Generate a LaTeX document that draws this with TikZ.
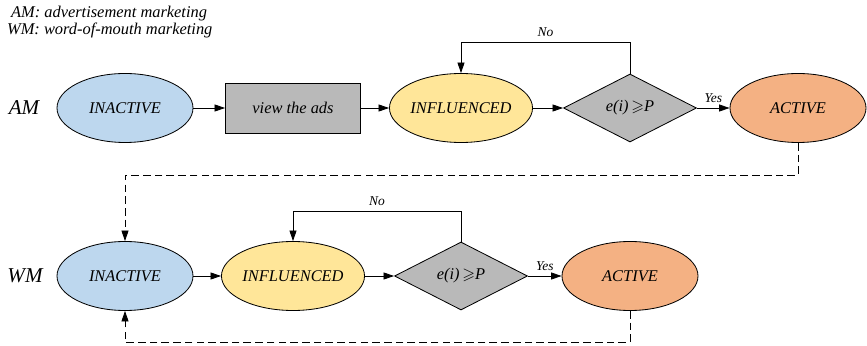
\documentclass[tikz,border=0pt]{standalone}
\usepackage{amssymb}
\usepackage{fontspec}
\setmainfont{Liberation Serif}
\usetikzlibrary{shapes.geometric,arrows.meta}

\definecolor{inactblue}{RGB}{189,215,238}
\definecolor{inflyellow}{RGB}{255,230,153}
\definecolor{actorange}{RGB}{244,177,131}
\definecolor{boxgray}{RGB}{185,185,185}

\tikzset{
  nodetext/.style={font=\rmfamily\fontsize{14}{16}\selectfont\itshape},
  state/.style={ellipse, draw, line width=0.7pt, minimum width=4.08cm, minimum height=2.07cm, inner sep=0pt, nodetext},
  inactive/.style={state, fill=inactblue},
  influenced/.style={state, fill=inflyellow},
  active/.style={state, fill=actorange},
  adbox/.style={rectangle, draw, line width=0.7pt, fill=boxgray, minimum width=4.05cm, minimum height=1.5cm, nodetext},
  check/.style={diamond, draw, line width=0.7pt, fill=boxgray, minimum width=3.99cm, minimum height=2.04cm, inner sep=0pt, nodetext},
  rowlabel/.style={font=\rmfamily\fontsize{18}{20}\selectfont\itshape},
  keytext/.style={anchor=base west, font=\rmfamily\fontsize{14}{16}\selectfont\itshape},
  answer/.style={font=\rmfamily\fontsize{11.5}{13}\selectfont\itshape},
  link/.style={->, line width=0.7pt},
  back/.style={->, line width=0.7pt, dash pattern=on 6.5pt off 3.5pt}
}

\begin{document}
\begin{tikzpicture}[x=0.03cm, y=-0.03cm, >={Triangle[length=9pt,width=6pt]}]
 \useasboundingbox (0,0) rectangle (867,346);

 % key
 \node[keytext] (keyam) at (7,18) {AM: advertisement marketing};
 \node[keytext] (keywm) at (3,35) {WM: word-of-mouth marketing};

 %level 1
 \def\dy{108}
 \node[rowlabel] (am) at (24,\dy) {AM};
 \node[inactive] (inact1) at (125,\dy) {INACTIVE};
 \node[adbox] (ads) at (293,\dy) {view the ads};
 \node[influenced] (infl1) at (461,\dy) {INFLUENCED};
 \node[check] (chk1) at (630,\dy) {e(i)\,$\geqslant$\textit{P}};
 \node[active] (act1) at (798,\dy) {ACTIVE};
 \coordinate (top1) at (0,42);

 \draw[link] (inact1) -- (ads);
 \draw[link] (ads) -- (infl1);
 \draw[link] (infl1) -- (chk1);
 \draw[link] (chk1) -- node[answer, above=1pt] {Yes} (act1);
 \draw[link] (chk1.north) -- (chk1.north |- top1) -| node[answer, pos=0.25, above=1pt] {No} (infl1.north);

 %level 2
 \def\dy{276}
 \node[rowlabel] (wm) at (25,\dy) {WM};
 \node[inactive] (inact2) at (125,\dy) {INACTIVE};
 \node[influenced] (infl2) at (293,\dy) {INFLUENCED};
 \node[check] (chk2) at (461,\dy) {e(i)\,$\geqslant$\textit{P}};
 \node[active] (act2) at (630,\dy) {ACTIVE};
 \coordinate (top2) at (0,211);

 \draw[link] (inact2) -- (infl2);
 \draw[link] (infl2) -- (chk2);
 \draw[link] (chk2) -- node[answer, above=1pt] {Yes} (act2);
 \draw[link] (chk2.north) -- (chk2.north |- top2) -| node[answer, pos=0.25, above=1pt] {No} (infl2.north);

 % going back
 \coordinate (ret1) at (125,175);
 \coordinate (ret2) at (125,342);
 \draw[back] (act1.south) |- (ret1) -- (inact2.north);
 \draw[back] (act2.south) |- (ret2) -- (inact2.south);

\end{tikzpicture}
\end{document}
